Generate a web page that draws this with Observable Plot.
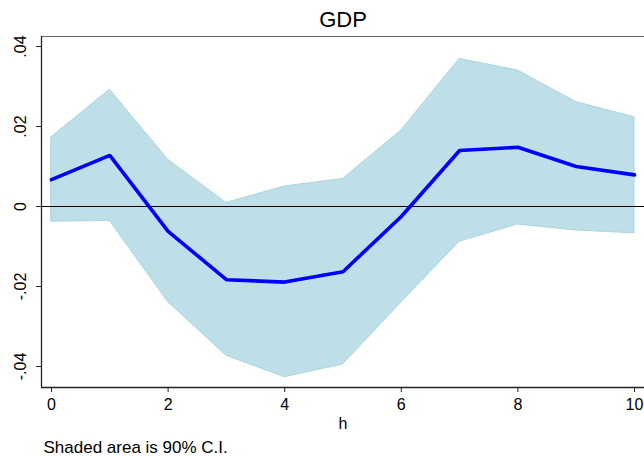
<!DOCTYPE html>
<html>
<head>
<meta charset="utf-8">
<script src="https://cdn.jsdelivr.net/npm/d3@7"></script>
<script src="https://cdn.jsdelivr.net/npm/@observablehq/plot@0.6"></script>
<style>
  html, body { margin: 0; padding: 0; background: #fff; }
  #chart svg { display: block; }
</style>
</head>
<body>
<div id="chart"></div>
<script>
// Horizon
const h = [0, 1, 2, 3, 4, 5, 6, 7, 8, 9, 10];
// Impulse response of GDP
const irf = [0.0067, 0.0128, -0.0062, -0.0183, -0.0189, -0.0163, -0.0025, 0.0140, 0.0148, 0.0100, 0.0079];
// 90% confidence bounds
const upper = [0.0173, 0.0292, 0.0117, 0.0009, 0.0050, 0.0069, 0.0190, 0.0369, 0.0340, 0.0261, 0.0223];
const lower = [-0.0038, -0.0036, -0.0239, -0.0373, -0.0427, -0.0395, -0.0240, -0.0088, -0.0045, -0.0060, -0.0067];
// Tick values and labels
const xTicks = [0, 2, 4, 6, 8, 10];
const yTicks = [-0.04, -0.02, 0, 0.02, 0.04];
const yTickLabels = ["-.04", "-.02", "0", ".02", ".04"];
const title = "GDP";
const xLabel = "h";
const note = "Shaded area is 90% C.I.";

const data = h.map((d, i) => ({h: d, irf: irf[i], lo: lower[i], hi: upper[i]}));
const yLab = yTicks.map((v, i) => ({v, label: yTickLabels[i]}));

const xDomain = [-0.1715, 10.1715];
const yDomain = [-0.04525, 0.0425];

const font = "Liberation Sans, Arial, Helvetica, sans-serif";

const chart = Plot.plot({
  width: 644,
  height: 459,
  marginLeft: 41,
  marginRight: 0,
  marginTop: 36,
  marginBottom: 72,
  style: {fontFamily: font, fontSize: "16px", color: "#000", background: "#fff"},
  x: {domain: xDomain},
  y: {domain: yDomain},
  marks: [
    Plot.areaY(data, {x: "h", y1: "lo", y2: "hi", fill: "#bedfe7", stroke: "#acd5e1", strokeWidth: 1}),
    Plot.ruleY([0], {stroke: "#000", strokeWidth: 1.2}),
    Plot.lineY(data, {x: "h", y: "irf", stroke: "#0000ff", strokeWidth: 3.6, strokeLinejoin: "miter"}),
    Plot.ruleY([yDomain[1]], {stroke: "#666", strokeWidth: 1}),
    Plot.ruleY([yDomain[0]], {stroke: "#222", strokeWidth: 1.3}),
    Plot.ruleX([xDomain[0]], {stroke: "#222", strokeWidth: 1.3}),
    Plot.axisX({ticks: xTicks, tickSize: 5, tickPadding: 6, fontSize: 16, label: null, stroke: "#222"}),
    Plot.axisY({ticks: yTicks, tickSize: 5, tickFormat: () => "", label: null, stroke: "#222"}),
    Plot.text(yLab, {y: "v", text: "label", frameAnchor: "left", dx: -16, rotate: -90, lineAnchor: "bottom", textAnchor: "middle", fontSize: 16}),
    Plot.text([title], {frameAnchor: "top", dy: -10, lineAnchor: "bottom", fontSize: 22}),
    Plot.text([xLabel], {frameAnchor: "bottom", dy: 41, lineAnchor: "bottom", fontSize: 16}),
    Plot.text([note], {frameAnchor: "bottom-left", dx: 2, dy: 65, lineAnchor: "bottom", textAnchor: "start", fontSize: 17})
  ]
});
document.getElementById("chart").appendChild(chart);
</script>
</body>
</html>
